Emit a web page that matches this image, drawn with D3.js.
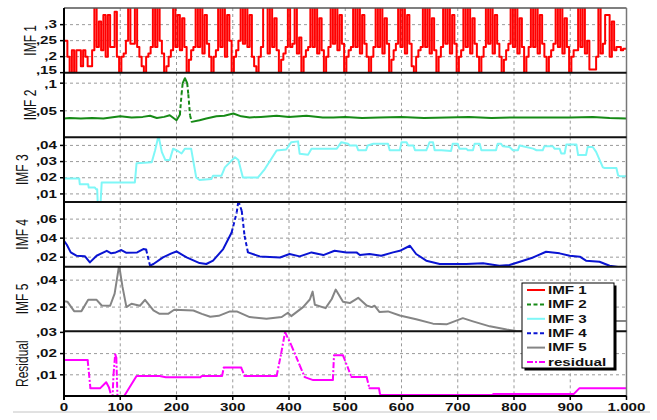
<!DOCTYPE html>
<html><head><meta charset="utf-8">
<script src="https://cdn.jsdelivr.net/npm/d3@7"></script>
<style>body{margin:0;background:#fff}text{font-family:"Liberation Sans",Arial,sans-serif}</style>
</head><body><svg id="c" width="657" height="420"></svg>
<script>
// ---------- data ----------
const xTicks = [0,100,200,300,400,500,600,700,800,900,1000];
const xTickLabels = ["0","100","200","300","400","500","600","700","800","900","1.000"];
const panelNames = ["IMF 1","IMF 2","IMF 3","IMF 4","IMF 5","Residual"];
const legendNames = ["IMF 1","IMF 2","IMF 3","IMF 4","IMF 5","residual"];
const yDomains = [[0.15,0.352],[0.002,0.119],[0.005,0.045],[0.01,0.078],[0.002,0.05],[0,0.0305]];
const yTicks = [[0.15,0.2,0.25,0.3],[0.05,0.1],[0.01,0.02,0.03,0.04],[0.02,0.04,0.06],[0.02,0.04],[0.01,0.02,0.03]];

const imf1Step = 4; // sample spacing on the x axis
const imf1 = [
0.25,0.25,0.20,0.15,0.22,0.15,0.22,0.22,0.17,0.22,
0.20,0.17,0.17,0.22,0.40,0.23,0.31,0.22,0.33,0.20,
0.33,0.23,0.23,0.34,0.20,0.15,0.20,0.21,0.25,0.40,
0.24,0.24,0.40,0.23,0.20,0.17,0.15,0.20,0.21,0.23,
0.40,0.23,0.40,0.25,0.21,0.15,0.17,0.20,0.22,0.40,
0.23,0.33,0.22,0.32,0.23,0.15,0.19,0.22,0.23,0.40,
0.23,0.40,0.21,0.33,0.24,0.20,0.15,0.20,0.22,0.40,
0.23,0.40,0.20,0.33,0.25,0.15,0.20,0.22,0.25,0.40,
0.24,0.40,0.23,0.33,0.20,0.17,0.15,0.20,0.23,0.40,
0.40,0.21,0.40,0.23,0.32,0.22,0.15,0.19,0.21,0.23,
0.40,0.23,0.24,0.40,0.21,0.26,0.15,0.20,0.22,0.23,
0.40,0.23,0.40,0.21,0.32,0.22,0.15,0.20,0.23,0.40,
0.24,0.40,0.22,0.33,0.24,0.15,0.20,0.22,0.23,0.40,
0.23,0.40,0.21,0.33,0.24,0.20,0.15,0.20,0.23,0.40,
0.23,0.40,0.21,0.32,0.24,0.15,0.19,0.22,0.24,0.40,
0.23,0.40,0.21,0.33,0.24,0.17,0.15,0.20,0.22,0.23,
0.40,0.23,0.40,0.21,0.32,0.22,0.15,0.20,0.23,0.40,
0.24,0.40,0.21,0.33,0.24,0.15,0.20,0.22,0.40,0.23,
0.40,0.21,0.32,0.24,0.20,0.15,0.20,0.23,0.40,0.24,
0.40,0.21,0.33,0.24,0.20,0.15,0.19,0.22,0.24,0.40,
0.23,0.40,0.21,0.32,0.23,0.15,0.20,0.23,0.40,0.23,
0.40,0.21,0.33,0.24,0.20,0.15,0.20,0.22,0.24,0.40,
0.23,0.40,0.21,0.32,0.23,0.15,0.20,0.22,0.22,0.40,
0.23,0.40,0.21,0.25,0.16,0.16,0.16,0.20,0.40,0.21,
0.24,0.33,0.33,0.20,0.31,0.22,0.23,0.23,0.22,0.225,
0.225];

const imf2X = [0,10,30,50,70,100,120,140,153,165,178,188,200,206,209,211,215,219,221,224,227,241,253,271,285,301,315,330,350,378,400,431,460,479,500,530,560,600,640,680,720,760,800,850,900,940,970,1000];
const imf2Y = [0.036,0.037,0.036,0.037,0.036,0.040,0.038,0.039,0.041,0.037,0.039,0.042,0.033,0.043,0.080,0.100,0.109,0.100,0.080,0.042,0.030,0.033,0.036,0.040,0.041,0.045,0.040,0.038,0.039,0.041,0.039,0.041,0.038,0.038,0.039,0.037,0.038,0.039,0.037,0.038,0.039,0.037,0.038,0.038,0.038,0.039,0.037,0.036];

const imf3X = [0,27,28,43,44,55,57,59,60,65,67,126,129,156,162,168,174,180,188,194,203,209,215,226,235,241,262,265,280,286,304,310,318,345,357,378,395,404,416,419,434,440,452,485,493,505,508,520,523,537,540,550,576,579,597,600,609,612,621,624,644,650,656,659,671,688,691,700,703,715,718,727,730,739,742,768,771,777,780,792,798,807,810,834,840,851,854,869,872,881,884,890,893,911,914,928,931,940,946,958,961,982,985,988,1000];
const imf3Y = [0.0196,0.0196,0.016,0.016,0.0139,0.0139,0.0129,0.0129,0.004,0.004,0.0171,0.0171,0.029,0.0296,0.037,0.046,0.0358,0.031,0.031,0.038,0.0364,0.035,0.038,0.038,0.0202,0.0186,0.0192,0.0213,0.0213,0.0264,0.0327,0.031,0.0202,0.0202,0.0254,0.0369,0.0375,0.042,0.0425,0.0348,0.0343,0.038,0.038,0.038,0.042,0.041,0.040,0.040,0.037,0.037,0.040,0.041,0.041,0.037,0.037,0.042,0.042,0.040,0.040,0.037,0.037,0.042,0.042,0.037,0.037,0.0365,0.041,0.041,0.038,0.038,0.037,0.037,0.041,0.041,0.037,0.037,0.041,0.041,0.0395,0.039,0.037,0.037,0.040,0.038,0.037,0.037,0.0395,0.0395,0.038,0.038,0.035,0.035,0.0405,0.0405,0.034,0.034,0.039,0.039,0.036,0.0264,0.026,0.026,0.0215,0.021,0.021];

const imf4X = [0,5,12,22,37,46,58,76,84,92,102,111,130,141,146,153,159,176,191,200,218,241,253,265,283,298,307,310,316,321,327,348,384,401,419,440,461,481,502,520,526,543,564,585,597,615,626,644,668,715,745,774,792,816,834,857,881,899,917,928,952,970,988,1000];
const imf4Y = [0.0372,0.033,0.025,0.0215,0.021,0.0145,0.0215,0.0267,0.024,0.025,0.0275,0.0246,0.025,0.0285,0.028,0.011,0.0128,0.0197,0.024,0.026,0.0197,0.0138,0.0128,0.0163,0.0285,0.046,0.0668,0.079,0.0686,0.0424,0.025,0.0208,0.0197,0.0233,0.0208,0.025,0.0222,0.0267,0.025,0.025,0.0222,0.0233,0.0215,0.025,0.0267,0.032,0.0233,0.0163,0.0128,0.0128,0.0135,0.011,0.0117,0.0163,0.0197,0.0257,0.024,0.0215,0.0205,0.0163,0.0152,0.011,0.0093,0.0093];

const imf5X = [0,6,18,31,43,58,67,82,90,98,104,111,120,135,144,159,170,185,196,230,245,260,275,295,307,330,360,387,398,404,425,437,442,446,465,476,483,496,508,523,538,547,552,561,576,597,626,656,680,694,709,727,757,787,804,830,900,975,1000];
const imf5Y = [0.0244,0.024,0.017,0.017,0.0254,0.0254,0.0212,0.021,0.030,0.051,0.035,0.020,0.0225,0.021,0.0254,0.0175,0.015,0.015,0.018,0.0175,0.015,0.0128,0.0135,0.0168,0.0168,0.0126,0.0114,0.0126,0.0158,0.0133,0.020,0.0256,0.0315,0.0217,0.0192,0.026,0.033,0.024,0.023,0.0269,0.0212,0.020,0.021,0.0163,0.0168,0.0138,0.011,0.0077,0.0072,0.0094,0.0118,0.0094,0.0057,0.0033,0.0022,0.002,0.005,0.0096,0.0096];

const resX = [0,42,47,64,75,80,84,86,88,91,93,95,97,103,107,129,170,181,242,245,281,284,315,321,378,386,393,404,419,428,443,478,480,496,511,538,543,560,562,762,763,906,916,1000];
const resY = [0.017,0.017,0.0036,0.0036,0.0065,0.004,0.0,-0.002,0.01,0.0197,0.018,0.0,-0.004,-0.004,0.0,0.0094,0.0094,0.0088,0.0088,0.0094,0.0094,0.0134,0.0134,0.0094,0.0094,0.02,0.0301,0.024,0.0145,0.0089,0.0075,0.0075,0.0192,0.0192,0.009,0.009,0.0036,0.0036,0.0005,0.0005,0.0009,0.0009,0.0036,0.0036];

// ---------- layout ----------
const L = 64, R = 626.5, T = 8, B = 396;
const nP = 6, ph = (B - T) / nP;
const SX = 1.38; // horizontal stretch of the original lettering
const svg = d3.select("#c");
const x = d3.scaleLinear().domain([0, 1000]).range([L, R]);

const series = [
  {xs: imf1.map((d, i) => i * imf1Step), ys: imf1, color: "#ff0000", dash: null, curve: d3.curveStep},
  {xs: imf2X, ys: imf2Y, color: "#168a16", dash: "4,2.5"},
  {xs: imf3X, ys: imf3Y, color: "#7ff7f7", dash: null},
  {xs: imf4X, ys: imf4Y, color: "#0a14d2", dash: "4,2.5"},
  {xs: imf5X, ys: imf5Y, color: "#858585", dash: null},
  {xs: resX, ys: resY, color: "#ff00ff", dash: "6,2,2,2"}
];

const fmt = v => String(+v.toFixed(4)).replace(/^0\./, ",");
const labelNudge = {"0-0.15": -2, "1-0.1": 1.5};
const defs = svg.append("defs");

series.forEach((s, p) => {
  const top = T + p * ph, bot = top + ph;
  const y = d3.scaleLinear().domain(yDomains[p]).range([bot, top]);
  const g = svg.append("g");
  // grid
  xTicks.filter(v => v > 0 && v < 1000).forEach(v => {
    g.append("line").attr("x1", x(v)).attr("x2", x(v)).attr("y1", top).attr("y2", bot)
      .attr("stroke", "#9a9a9a").attr("stroke-width", 1).attr("stroke-dasharray", "3,3");
  });
  yTicks[p].forEach(v => {
    const yy = y(v);
    if (yy > top + 1.5 && yy < bot - 1.5)
      g.append("line").attr("x1", L).attr("x2", R).attr("y1", yy).attr("y2", yy)
        .attr("stroke", "#9a9a9a").attr("stroke-width", 1).attr("stroke-dasharray", "3,3");
    g.append("line").attr("x1", L - 4).attr("x2", L).attr("y1", yy).attr("y2", yy)
      .attr("stroke", "#000").attr("stroke-width", 1.5);
    const ny = labelNudge[p + "-" + v] || 0;
    g.append("text").attr("transform", `translate(57,${yy + ny}) scale(${SX},1)`)
      .attr("text-anchor", "end").attr("dominant-baseline", "central")
      .attr("font-size", 11).attr("font-weight", "bold").attr("fill", "#111").text(fmt(v));
  });
  // title
  svg.append("text").attr("transform", `translate(${p < 2 ? 30 : 22},${top + ph / 2}) scale(${SX},1) rotate(-90)`)
    .attr("text-anchor", "middle").attr("dominant-baseline", "central")
    .attr("font-size", 12).attr("fill", "#111").text(panelNames[p]);
  // clip
  const cid = "clip" + p;
  defs.append("clipPath").attr("id", cid).append("rect")
    .attr("x", L).attr("y", top).attr("width", R - L).attr("height", ph);
  const lg = svg.append("g").attr("clip-path", `url(#${cid})`)
    .attr("fill", "none").attr("stroke", s.color).attr("stroke-width", 2);
  const pts = s.xs.map((xv, i) => [x(xv), y(s.ys[i])]);
  const line = d3.line();
  if (!s.dash) {
    lg.append("path").attr("d", d3.line().curve(s.curve || d3.curveLinear)(pts)).attr("stroke-linejoin", "round");
  } else {
    let run = [pts[0]];
    const flush = () => { if (run.length > 1) lg.append("path").attr("d", line(run)).attr("stroke-linejoin", "round").attr("stroke-linecap", "round"); };
    for (let i = 1; i < pts.length; i++) {
      const a = pts[i - 1], b = pts[i];
      const dx = Math.abs(b[0] - a[0]), dy = Math.abs(b[1] - a[1]);
      if (dy > 6 && dy > 2 * dx) {
        flush();
        lg.append("path").attr("d", line([a, b])).attr("stroke-dasharray", s.dash);
        run = [b];
      } else run.push(b);
    }
    flush();
  }
});

// borders
svg.append("line").attr("x1", L).attr("x2", R).attr("y1", T).attr("y2", T).attr("stroke", "#555").attr("stroke-width", 1.5);
svg.append("line").attr("x1", R).attr("x2", R).attr("y1", T).attr("y2", B).attr("stroke", "#777").attr("stroke-width", 1.5);
for (let p = 1; p < nP; p++) {
  const yy = T + p * ph;
  svg.append("line").attr("x1", L).attr("x2", R).attr("y1", yy).attr("y2", yy).attr("stroke", "#111").attr("stroke-width", 2);
}
svg.append("line").attr("x1", L).attr("x2", R).attr("y1", B).attr("y2", B).attr("stroke", "#000").attr("stroke-width", 2);
svg.append("line").attr("x1", L).attr("x2", L).attr("y1", T).attr("y2", B + 4).attr("stroke", "#000").attr("stroke-width", 2);

// x axis
xTicks.forEach((v, i) => {
  svg.append("line").attr("x1", x(v)).attr("x2", x(v)).attr("y1", B).attr("y2", B + 4).attr("stroke", "#000").attr("stroke-width", 1.5);
  svg.append("text").attr("transform", `translate(${x(v)},410.5) scale(${SX},1)`)
    .attr("text-anchor", "middle").attr("font-size", 11).attr("font-weight", "bold").attr("fill", "#111")
    .text(xTickLabels[i]);
});
svg.append("line").attr("x1", 13).attr("x2", 650).attr("y1", 412).attr("y2", 412).attr("stroke", "#c4c4c4").attr("stroke-width", 1);

// legend
const lx = 522, ly = 283, lw = 92, lh = 85;
svg.append("rect").attr("x", lx + 2.5).attr("y", ly + 2.5).attr("width", lw).attr("height", lh).attr("fill", "#000");
svg.append("rect").attr("x", lx).attr("y", ly).attr("width", lw).attr("height", lh).attr("fill", "#fff").attr("stroke", "#000").attr("stroke-width", 1);
legendNames.forEach((n, i) => {
  const yy = ly + 7 + i * 14.4;
  svg.append("line").attr("x1", lx + 5).attr("x2", lx + 23).attr("y1", yy).attr("y2", yy)
    .attr("stroke", series[i].color).attr("stroke-width", 2)
    .attr("stroke-dasharray", series[i].dash ? series[i].dash : null);
  svg.append("text").attr("transform", `translate(${lx + 26},${yy}) scale(${SX},1)`)
    .attr("dominant-baseline", "central").attr("font-size", 11).attr("font-weight", "bold").attr("fill", "#111").text(n);
});
</script></body></html>
